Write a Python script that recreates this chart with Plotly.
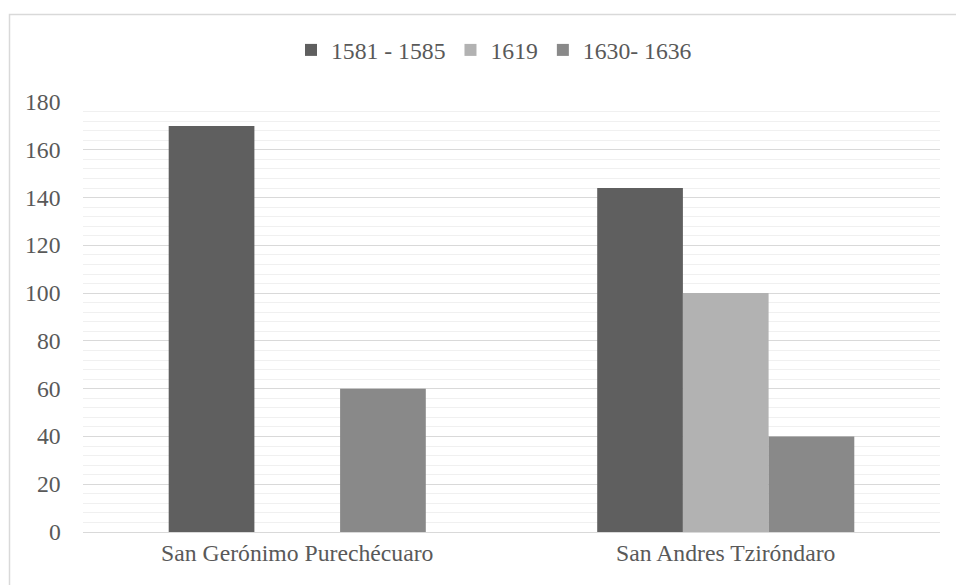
import plotly.graph_objects as go

# Population counts per locality and period
localities = ["San Gerónimo Purechécuaro", "San Andres Tziróndaro"]
periods = ["1581 - 1585", "1619", "1630- 1636"]
values_1581_1585 = [170, 144]
values_1619 = [None, 100]
values_1630_1636 = [60, 40]
series_colors = ["#5f5f5f", "#b2b2b2", "#898989"]

y_ticks = [0, 20, 40, 60, 80, 100, 120, 140, 160, 180]

series_values = [values_1581_1585, values_1619, values_1630_1636]

fig = go.Figure()
for name, vals, color in zip(periods, series_values, series_colors):
    fig.add_trace(go.Bar(
        x=localities,
        y=vals,
        name=name,
        marker=dict(color=color, line=dict(width=0)),
    ))

font_family = "Liberation Serif"
text_color = "#595959"
font_size = 23.7

# plot area: x 83..940, y 102..532 within a 956x585 page
L, R, T, B = 83, 16, 102, 53
W, H = 956, 585
pw, ph = W - L - R, H - T - B

def px_to_paper_x(px):
    return (px - L) / pw

def px_to_paper_y(py):
    return (H - B - py) / ph

# value-axis labels, right-aligned a fixed distance left of the plot area
y_labels = [
    dict(
        x=px_to_paper_x(63),
        xref="paper",
        y=v,
        yref="y",
        text=str(v),
        showarrow=False,
        xanchor="right",
        yanchor="middle",
        font=dict(family=font_family, size=font_size, color=text_color),
    )
    for v in y_ticks
]

fig.update_layout(
    width=W,
    height=H,
    margin=dict(l=L, r=R, t=T, b=B),
    paper_bgcolor="white",
    plot_bgcolor="white",
    barmode="group",
    bargap=0.4,
    bargroupgap=0,
    font=dict(family=font_family, size=font_size, color=text_color),
    showlegend=True,
    legend=dict(
        orientation="h",
        x=px_to_paper_x(494),
        xanchor="center",
        y=px_to_paper_y(50),
        yanchor="middle",
        font=dict(family=font_family, size=font_size, color=text_color),
        itemwidth=30,
        traceorder="normal",
    ),
    xaxis=dict(
        showgrid=False,
        showline=True,
        linecolor="#d9d9d9",
        linewidth=1,
        ticks="",
        tickfont=dict(family=font_family, size=font_size, color=text_color),
        fixedrange=True,
    ),
    yaxis=dict(
        range=[0, 180],
        tickvals=y_ticks,
        showgrid=True,
        gridcolor="#d9d9d9",
        gridwidth=1,
        zeroline=False,
        showline=False,
        ticks="",
        showticklabels=False,
        minor=dict(dtick=4, showgrid=True, gridcolor="#f0f0f0", gridwidth=1),
        fixedrange=True,
    ),
    annotations=y_labels,
    shapes=[
        dict(
            type="rect",
            xref="paper",
            yref="paper",
            x0=px_to_paper_x(9.5),
            x1=px_to_paper_x(965),
            y0=px_to_paper_y(595),
            y1=px_to_paper_y(14.5),
            line=dict(color="#d9d9d9", width=1.5),
            fillcolor="rgba(0,0,0,0)",
            layer="below",
        )
    ],
)

fig.write_html("out.html")
